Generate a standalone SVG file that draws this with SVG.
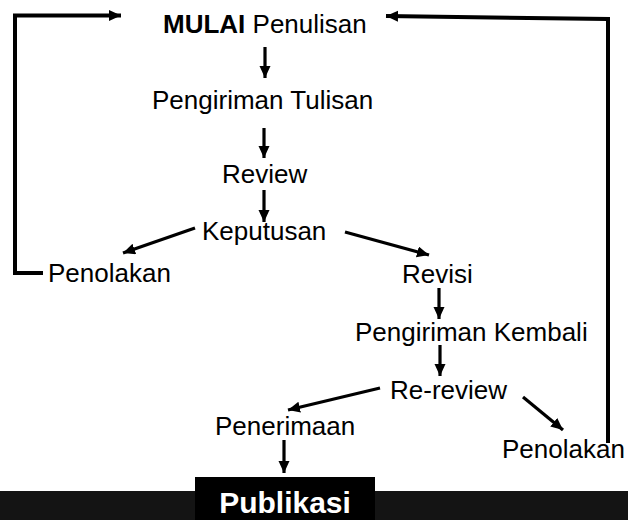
<svg xmlns="http://www.w3.org/2000/svg" width="628" height="520" viewBox="0 0 628 520">
<defs>
<style>
.t{font-family:"Liberation Sans",Arial,sans-serif;font-size:26px;fill:#000}
.b{font-weight:bold}
.c{fill:none;stroke:#000;stroke-width:3.2}
.loop{fill:none;stroke:#000;stroke-width:4}
</style>
<marker id="ah" markerUnits="userSpaceOnUse" markerWidth="13" markerHeight="12" refX="12" refY="5.5" orient="auto">
<path d="M0,0 L12,5.5 L0,11 z" fill="#000"/>
</marker>
</defs>
<rect x="0" y="0" width="628" height="520" fill="#fff"/>
<g id="connectors">
<polyline class="loop" points="43,273 15,273 15,15.5 121,15.5" marker-end="url(#ah)"/>
<polyline class="loop" points="608,443 608,19 386,16" marker-end="url(#ah)"/>
<line class="c" x1="265" y1="47" x2="265" y2="78" marker-end="url(#ah)"/>
<line class="c" x1="264" y1="128" x2="264" y2="158" marker-end="url(#ah)"/>
<line class="c" x1="264" y1="190" x2="264" y2="222" marker-end="url(#ah)"/>
<line class="c" x1="195" y1="228" x2="123" y2="253" marker-end="url(#ah)"/>
<line class="c" x1="345" y1="232" x2="429" y2="255" marker-end="url(#ah)"/>
<line class="c" x1="439" y1="288" x2="439" y2="319" marker-end="url(#ah)"/>
<line class="c" x1="440" y1="345" x2="440" y2="376" marker-end="url(#ah)"/>
<line class="c" x1="380" y1="388" x2="288" y2="410" marker-end="url(#ah)"/>
<line class="c" x1="523" y1="397" x2="563" y2="430" marker-end="url(#ah)"/>
<line class="c" x1="284" y1="440" x2="284" y2="473" marker-end="url(#ah)"/>
</g>
<g id="mulai"><text class="t" x="163" y="33"><tspan class="b">MULAI</tspan> Penulisan</text></g>
<g id="pengiriman"><text class="t" x="152" y="109">Pengiriman Tulisan</text></g>
<g id="review"><text class="t" x="222" y="183">Review</text></g>
<g id="keputusan"><text class="t" x="202" y="240">Keputusan</text></g>
<g id="penolakan1"><text class="t" x="48" y="282">Penolakan</text></g>
<g id="revisi"><text class="t" x="402" y="283">Revisi</text></g>
<g id="pengirimankembali"><text class="t" x="355" y="341">Pengiriman Kembali</text></g>
<g id="rereview"><text class="t" x="390" y="399">Re-review</text></g>
<g id="penerimaan"><text class="t" x="215" y="435">Penerimaan</text></g>
<g id="penolakan2"><text class="t" x="502" y="458">Penolakan</text></g>
<g id="publikasi">
<rect x="0" y="491" width="628" height="29" fill="#141414"/>
<rect x="195" y="477" width="180" height="43" fill="#000"/>
<text class="t b" x="285" y="513" text-anchor="middle" style="font-size:30px;fill:#fff">Publikasi</text>
</g>
</svg>
